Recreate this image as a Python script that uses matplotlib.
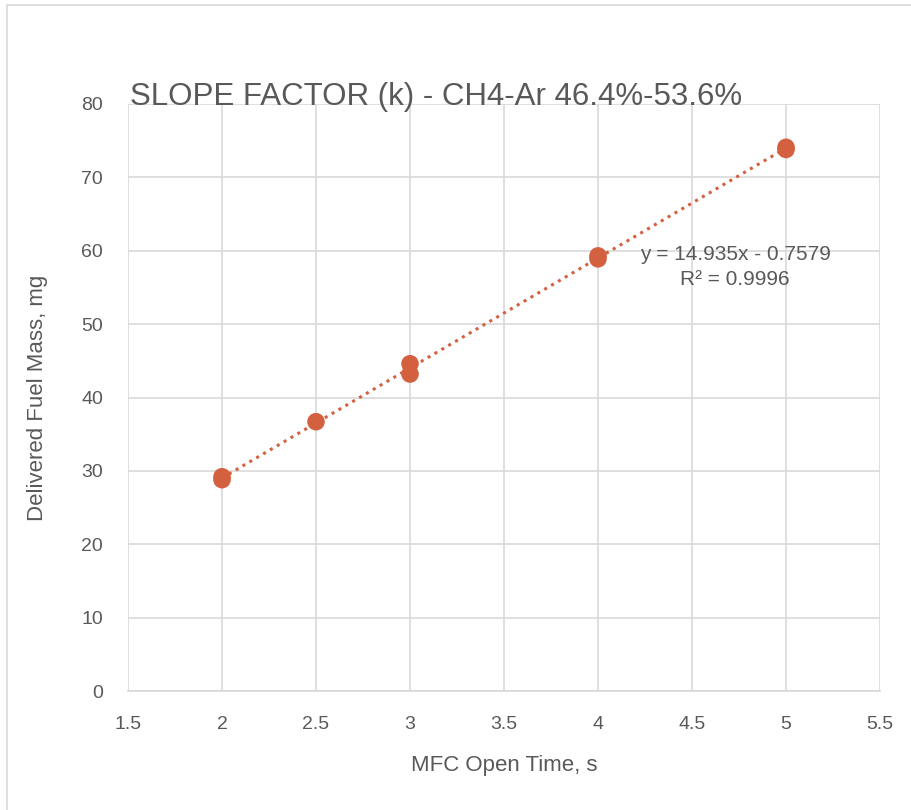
import matplotlib.pyplot as plt
import numpy as np
from matplotlib.patches import Rectangle

plt.rcParams['font.family'] = ['Liberation Sans', 'DejaVu Sans']

# Данные
open_time = [2, 2, 2.5, 3, 3, 4, 4, 5, 5]
fuel_mass = [28.8, 29.2, 36.7, 44.6, 43.2, 59.3, 58.9, 73.8, 74.1]
x_ticks = [1.5, 2, 2.5, 3, 3.5, 4, 4.5, 5, 5.5]
y_ticks = [0, 10, 20, 30, 40, 50, 60, 70, 80]

TEXT = '#595959'
GRID = '#d9d9d9'
MARK = '#d3603f'

fig = plt.figure(figsize=(9.12, 8.10), dpi=100)
fig.patches.append(Rectangle((7 / 912, -0.1), 1.2, 1 - 5 / 810 + 0.1, transform=fig.transFigure,
                             fill=False, edgecolor=GRID, linewidth=1.2))
ax = fig.add_axes([128 / 912, 119 / 810, 752 / 912, 587 / 810])

x = np.array(open_time)
y = np.array(fuel_mass)
k, b = np.polyfit(x, y, 1)
xs = np.array([x.min(), x.max()])
ax.plot(xs, k * xs + b, linestyle=(0, (1, 1.6)), color=MARK, linewidth=2.2, zorder=2)
ax.scatter(x, y, s=160, color=MARK, zorder=3, edgecolors='none')

ax.set_xlim(1.5, 5.5)
ax.set_ylim(0, 80)
ax.set_xticks(x_ticks)
ax.set_xticklabels([f'{t:g}' for t in x_ticks])
ax.set_yticks(y_ticks)
ax.grid(True, color=GRID, linewidth=1.2)
ax.set_axisbelow(True)
for s in ['top', 'right', 'left']:
    ax.spines[s].set_visible(False)
ax.spines['bottom'].set_color(GRID)
ax.spines['bottom'].set_linewidth(1.2)
ax.tick_params(length=0, labelsize=14, colors=TEXT)
ax.tick_params(axis='x', pad=18)
ax.tick_params(axis='y', pad=18)

ax.set_xlabel('MFC Open Time, s', fontsize=16, color=TEXT, labelpad=16)
ax.set_ylabel('Delivered Fuel Mass, mg', fontsize=16, color=TEXT, labelpad=24)
ax.text(0.002, 0.998, 'SLOPE FACTOR (k) - CH4-Ar 46.4%-53.6%', transform=ax.transAxes,
        fontsize=22.5, color=TEXT, ha='left', va='baseline')

ax.text(4.73, 57.8, 'y = 14.935x - 0.7579\nR² = 0.9996', fontsize=15, color=TEXT,
        ha='center', va='center', linespacing=1.45)

fig.savefig('out.png', dpi=100)
